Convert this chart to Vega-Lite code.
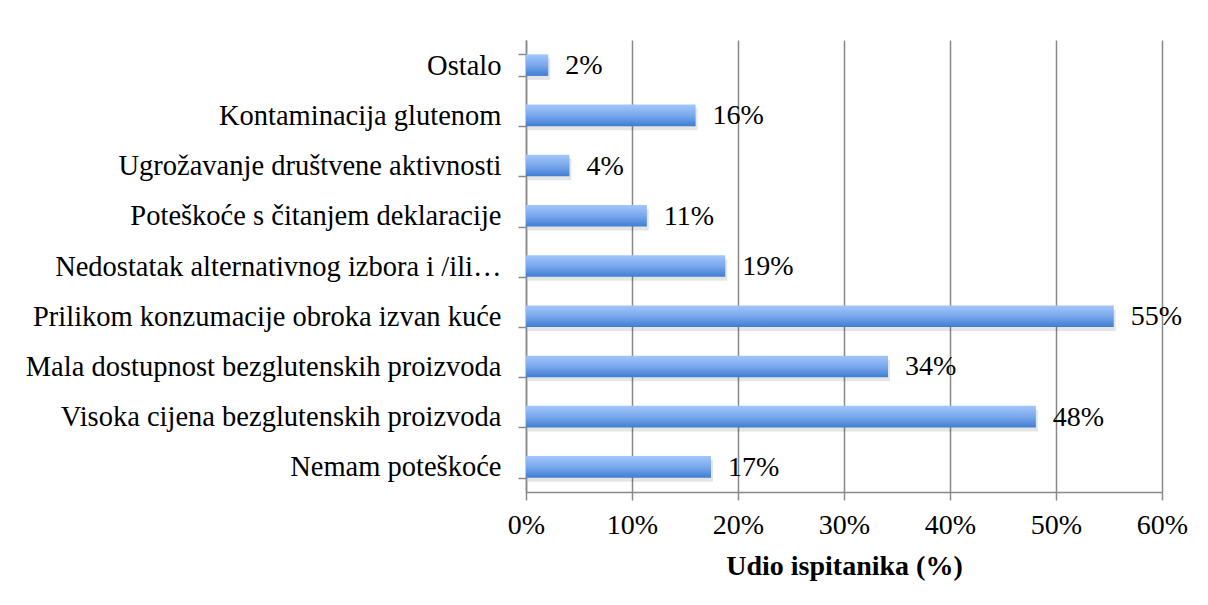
{
  "$schema": "https://vega.github.io/schema/vega-lite/v6.json",
  "width": 636,
  "height": 452,
  "autosize": {"type": "none"},
  "padding": {"left": 526, "top": 40, "right": 46, "bottom": 113},
  "background": "white",
  "config": {
    "view": {"stroke": null},
    "font": "Liberation Serif"
  },
  "data": {
    "values": [
      {"kategorija": "Ostalo", "udio": 0.021},
      {"kategorija": "Kontaminacija glutenom ", "udio": 0.16},
      {"kategorija": "Ugrožavanje društvene aktivnosti", "udio": 0.041},
      {"kategorija": "Poteškoće s čitanjem deklaracije", "udio": 0.114},
      {"kategorija": "Nedostatak alternativnog izbora i /ili…", "udio": 0.188},
      {"kategorija": "Prilikom konzumacije obroka izvan kuće ", "udio": 0.5545},
      {"kategorija": "Mala dostupnost bezglutenskih proizvoda", "udio": 0.3415},
      {"kategorija": "Visoka cijena bezglutenskih proizvoda", "udio": 0.481},
      {"kategorija": "Nemam poteškoće", "udio": 0.1745}
    ]
  },
  "encoding": {
    "y": {
      "field": "kategorija",
      "type": "nominal",
      "sort": null,
      "scale": {"paddingInner": 0.57, "paddingOuter": 0.285},
      "axis": {
        "title": null,
        "tickBand": "extent",
        "tickSize": 8,
        "tickColor": "#888888",
        "tickWidth": 1.5,
        "domainColor": "#888888",
        "domainWidth": 1.5,
        "labelFontSize": 28.5,
        "labelColor": "#000000",
        "labelPadding": 17,
        "labelLimit": 700,
        "labelFont": "Liberation Serif"
      }
    }
  },
  "layer": [
    {
      "mark": {"type": "bar", "fill": "#000000", "opacity": 0.1, "xOffset": 2, "yOffset": 4},
      "encoding": {
        "x": {"field": "udio", "type": "quantitative"}
      }
    },
    {
      "mark": {
        "type": "bar",
        "color": {
          "gradient": "linear",
          "x1": 0, "y1": 0, "x2": 0, "y2": 1,
          "stops": [
            {"offset": 0, "color": "#a2c6fb"},
            {"offset": 0.5, "color": "#7aa8ec"},
            {"offset": 1, "color": "#3f7dd2"}
          ]
        }
      },
      "encoding": {
        "x": {
          "field": "udio",
          "type": "quantitative",
          "scale": {"domain": [0, 0.6], "nice": false},
          "axis": {
            "title": "Udio ispitanika (%)",
            "titleFontSize": 28,
            "titleFontWeight": "bold",
            "titleColor": "#000000",
            "titlePadding": 13,
            "titleFont": "Liberation Serif",
            "format": ".0%",
            "values": [0, 0.1, 0.2, 0.3, 0.4, 0.5, 0.6],
            "tickSize": 8,
            "tickColor": "#888888",
            "tickWidth": 1.5,
            "domainColor": "#888888",
            "domainWidth": 1.5,
            "grid": true,
            "gridColor": "#888888",
            "gridWidth": 1.5,
            "labelFontSize": 28,
            "labelColor": "#000000",
            "labelPadding": 11,
            "labelFont": "Liberation Serif",
            "labelFlush": false
          }
        }
      }
    },
    {
      "mark": {"type": "text", "align": "left", "baseline": "middle", "dx": 17, "dy": 1, "fontSize": 28, "color": "#000000", "font": "Liberation Serif"},
      "encoding": {
        "x": {"field": "udio", "type": "quantitative"},
        "text": {"field": "udio", "type": "quantitative", "format": ".0%"}
      }
    }
  ]
}
